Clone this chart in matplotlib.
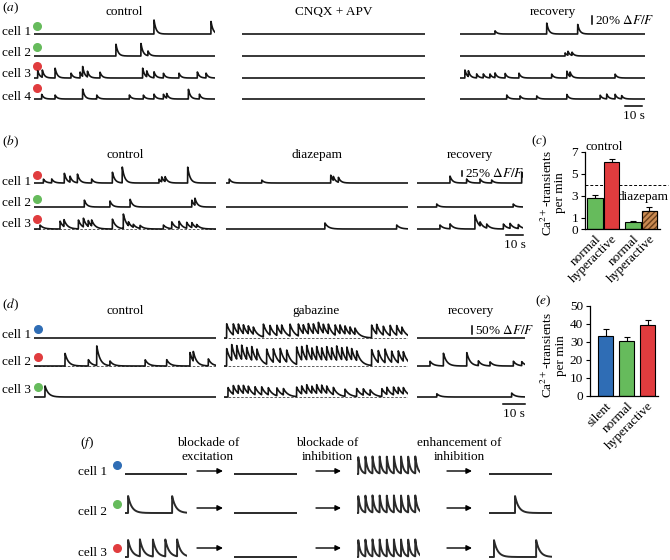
import numpy as np
import matplotlib.pyplot as plt

plt.rcParams['font.family'] = ['Liberation Serif', 'DejaVu Serif']
plt.rcParams['mathtext.fontset'] = 'stix'
plt.rcParams['font.size'] = 9.5

GREEN = '#66bb5c'
RED = '#e03c3e'
BLUE = '#2f6db5'
BROWN = '#c98a52'

# ---- (a) event times (s) and amplitudes (% dF/F) ----
a_dots = [GREEN, GREEN, RED, RED]
a_ctrl_t = [[70.6, 104.1], [48.2, 62.9, 67.0],
            [2.2, 4.9, 12.4, 21.8, 27.1, 28.6, 31.4, 38.8, 63.9, 66.3, 70.6, 76.1, 85.3, 96.1, 101.2],
            [4.5, 12.4, 28.6, 36.9, 56.1, 64.3, 70.6, 76.1, 78.0, 90.8, 97.3]]
a_ctrl_a = [[35, 32], [30, 32, 12],
            [18, 18, 25, 12, 15, 25, 15, 15, 25, 15, 15, 12, 12, 15, 12],
            [12, 10, 25, 10, 10, 10, 12, 12, 12, 25, 12]]
a_cnqx_t = [[], [], [], []]
a_cnqx_a = [[], [], [], []]
a_rec_t = [[20.6, 51.0, 69.2], [61.8, 63.5, 65.9],
           [2.9, 4.9, 9.8, 13.7, 17.6, 20.6, 26.5, 34.7, 53.9, 62.8, 64.7, 91.2],
           [27.5, 35.3, 45.1, 62.8, 82.4, 86.3, 91.2, 95.1]]
a_rec_a = [[8, 28, 25], [8, 10, 8],
           [20, 15, 10, 10, 10, 12, 12, 12, 10, 18, 12, 10],
           [10, 8, 8, 12, 10, 12, 12, 8]]

# ---- (b) ----
b_dots = [RED, GREEN, RED]
b_ctrl_t = [[5.5, 10.4, 17.8, 21.2, 25.5, 33.9, 46.1, 51.9, 73.5, 75.1, 77.1, 90.4],
            [29.6, 44.7, 56.5, 92.8, 94.7],
            [3.5, 15.3, 17.6, 26.1, 29.0, 31.9, 33.9, 46.1, 52.5, 55.5, 58.4, 62.4, 76.1, 81.0, 85.3, 89.8, 92.8, 95.7]]
b_ctrl_a = [[20, 20, 50, 30, 45, 20, 55, 80, 20, 25, 25, 80],
            [35, 30, 40, 35, 35],
            [20, 40, 35, 45, 45, 30, 30, 50, 75, 20, 15, 15, 20, 35, 35, 30, 25, 15]]
b_diaz_t = [[1.9, 21.0, 61.6, 63.1, 66.1], [], [58.2, 100.4]]
b_diaz_a = [[20, 15, 40, 20, 25], [], [30, 20]]
b_rec_t = [[19.4, 29.2, 37.1, 43.9, 61.6], [11.6, 56.6],
           [13.5, 19.4, 34.1, 37.1, 41.0, 50.8, 54.7, 59.6]]
b_rec_a = [[35, 20, 20, 15, 55], [15, 15], [20, 25, 70, 20, 20, 25, 25, 20]]

# ---- (c) ----
c_labels = ['normal', 'hyperactive', 'normal', 'hyperactive']
c_values = [2.8, 6.1, 0.6, 1.6]
c_err = [0.25, 0.3, 0.12, 0.4]
c_colors = [GREEN, RED, GREEN, BROWN]
c_thresh = 4

# ---- (d) ----
d_dots = [BLUE, RED, GREEN]
d_ctrl_t = [[], [14.1, 24.7, 28.5, 34.5, 50.5, 60.3, 70.9, 72.4, 79.2], [5.0]]
d_ctrl_a = [[], [80, 40, 125, 30, 40, 40, 85, 60, 45], [70]]
d_gaba_t = [[1.2, 4.2, 6.5, 8.8, 11.0, 13.3, 17.9, 20.9, 24.0, 26.2, 30.0, 33.8, 36.0, 38.3, 40.6,
             42.9, 45.1, 47.4, 50.5, 52.7, 55.0, 57.3, 59.5, 67.1, 69.4, 72.4, 75.5, 78.5, 80.8],
            [1.2, 3.5, 5.8, 8.0, 10.3, 12.6, 14.9, 19.4, 22.4, 25.5, 28.5, 33.0, 35.3, 37.6, 39.9,
             42.1, 44.4, 46.7, 48.9, 51.2, 53.5, 55.8, 58.0, 60.3, 67.1, 70.1, 73.2, 76.2, 79.2, 81.5],
            [1.8, 4.2, 6.5, 8.8, 11.0, 14.1, 17.1, 20.1, 24.0, 27.0, 33.0, 35.3, 37.6, 39.9,
             42.1, 44.4, 46.7, 49.7, 55.0, 60.3, 63.3, 66.4, 71.7, 74.0, 77.0, 79.2, 81.5]]
d_gaba_a = [[90, 70, 60, 55, 50, 45, 80, 60, 65, 55, 75, 75, 55, 65, 60,
             70, 55, 60, 65, 55, 50, 45, 40, 80, 60, 55, 65, 60, 45],
            [110, 100, 85, 90, 75, 85, 70, 95, 85, 90, 75, 110, 85, 90, 75,
             85, 75, 85, 75, 90, 75, 85, 70, 60, 100, 75, 85, 70, 75, 60],
            [60, 55, 50, 50, 45, 50, 50, 45, 50, 40, 60, 50, 55, 45,
             55, 50, 45, 45, 45, 50, 40, 35, 50, 45, 50, 40, 40]]
d_rec_t = [[], [5.9, 12.0, 22.6, 27.9, 33.2, 43.8, 47.6], [9.0, 43.0]]
d_rec_a = [[], [30, 80, 85, 30, 25, 30, 25], [20, 25]]

# ---- (e) ----
e_labels = ['silent', 'normal', 'hyperactive']
e_values = [33.5, 30.5, 39.5]
e_err = [3.5, 2.3, 2.6]
e_colors = [BLUE, GREEN, RED]

# ---- (f) schematic, event times in arbitrary units (0-10 per segment) ----
f_dots = [BLUE, GREEN, RED]
f_ctrl = [[], [0.5, 7.6], [0.5, 2.4, 4.5, 6.5, 8.4]]
f_exc_block = [[], [], []]
f_inh_block = [[0.2, 1.35, 2.5, 3.65, 4.8, 5.95, 7.1, 8.25, 9.4]] * 3
f_inh_enh = [[], [4.2], [0.8, 7.6]]

# ---------------------------------------------------------------
W, H = 670, 560
fig = plt.figure(figsize=(W / 100, H / 100), dpi=100)
ov = fig.add_axes([0, 0, 1, 1])
ov.set_xlim(0, W)
ov.set_ylim(H, 0)
ov.axis('off')


def box(x0, x1, y0, y1):
    return fig.add_axes([x0 / W, 1 - y1 / H, (x1 - x0) / W, (y1 - y0) / H])


def trace(x0, x1, ybase, pps, ppp, times, amps, tau, dashed=False, lw=1.2, color='#151515'):
    dur = (x1 - x0) / pps
    ax = box(x0, x1, ybase - 45, ybase + 5)
    ax.set_xlim(0, dur)
    ax.set_ylim(-5 / ppp, 45 / ppp)
    t = np.linspace(0, dur, 1500)
    y = np.zeros_like(t)
    for t0, a in zip(times, amps):
        on = t >= t0
        y[on] += a * np.exp(-(t[on] - t0) / tau)
    if dashed:
        ax.axhline(0, color='#444444', lw=0.6, ls=(0, (3, 2)))
    ax.plot(t, y, color=color, lw=lw)
    ax.axis('off')
    ax.patch.set_visible(False)
    return ax


def cell_labels(x, ys, dot_ys, dot_x, colors):
    for i, (y, dy, c) in enumerate(zip(ys, dot_ys, colors)):
        ov.text(x, y, 'cell %d' % (i + 1), ha='left', va='center')
        ov.scatter([dot_x], [dy], s=30, color=c, zorder=3)


def scalebars(xv, yv_bot, pct, ppp, xh1, yh, secs, pps):
    ov.plot([xv, xv], [yv_bot - pct * ppp, yv_bot], color='k', lw=1.1)
    ov.text(xv + 3, yv_bot - pct * ppp / 2, r'%d%% $\Delta F/F$' % pct, ha='left', va='center')
    ov.plot([xh1 - secs * pps, xh1], [yh, yh], color='k', lw=1.1)
    ov.text(xh1 - secs * pps / 2, yh + 10, '%d s' % secs, ha='center', va='center')


def panel_letter(x, y, s):
    ov.text(x, y, r'($\mathit{%s}$)' % s, ha='left', va='center')


# ---- (a) ----
A_COLS = [(34, 215), (242, 425), (460, 645)]
A_ROWS = [34, 56, 78, 99]
A_PPS, A_PPP = 1.7, 0.4
panel_letter(2, 8, 'a')
for (x0, x1), title, T, A in zip(A_COLS, ['control', 'CNQX + APV', 'recovery'],
                                 [a_ctrl_t, a_cnqx_t, a_rec_t], [a_ctrl_a, a_cnqx_a, a_rec_a]):
    ov.text((x0 + x1) / 2, 12, title, ha='center', va='center')
    for yb, tt, aa in zip(A_ROWS, T, A):
        trace(x0, x1, yb, A_PPS, A_PPP, tt, aa, 1.2)
cell_labels(2, [32, 53, 74, 97], [26, 47, 66, 88], 37, a_dots)
scalebars(592, 24, 20, A_PPP, 642, 106, 10, A_PPS)

# ---- (b) ----
B_COLS = [(34, 216), (226, 408), (417, 523)]
B_ROWS = [183, 207, 229]
B_PPS, B_PPP = 1.7, 0.2
panel_letter(2, 142, 'b')
for j, ((x0, x1), title, T, A) in enumerate(zip(B_COLS, ['control', 'diazepam', 'recovery'],
                                                [b_ctrl_t, b_diaz_t, b_rec_t],
                                                [b_ctrl_a, b_diaz_a, b_rec_a])):
    ov.text((x0 + x1) / 2, 155, title, ha='center', va='center')
    for i, (yb, tt, aa) in enumerate(zip(B_ROWS, T, A)):
        trace(x0, x1, yb, B_PPS, B_PPP, tt, aa, 2.0 if i == 2 else 1.4,
              dashed=(j == 0 and i == 2))
cell_labels(2, [182, 203, 224], [175, 199, 219], 37, b_dots)
scalebars(462, 176, 25, B_PPP, 523, 235, 10, B_PPS)

# ---- (d) ----
D_COLS = [(34, 216), (224, 408), (417, 525)]
D_ROWS = [338, 366, 397]
D_PPS, D_PPP = 2.2, 0.16
panel_letter(2, 305, 'd')
for j, ((x0, x1), title, T, A) in enumerate(zip(D_COLS, ['control', 'gabazine', 'recovery'],
                                                [d_ctrl_t, d_gaba_t, d_rec_t],
                                                [d_ctrl_a, d_gaba_a, d_rec_a])):
    ov.text((x0 + x1) / 2, 311, title, ha='center', va='center')
    for i, (yb, tt, aa) in enumerate(zip(D_ROWS, T, A)):
        trace(x0, x1, yb, D_PPS, D_PPP, tt, aa, 2.0 if j == 1 else 1.5,
              dashed=(j == 1 or (j == 0 and i == 1)))
cell_labels(2, [335, 362, 390], [329, 357, 387], 38, d_dots)
scalebars(472, 334, 50, D_PPP, 525, 404, 10, D_PPS)

# ---- bar charts ----
def style_bars(ax, xs, labels):
    for s in ['top', 'right']:
        ax.spines[s].set_visible(False)
    ax.spines['left'].set_linewidth(0.9)
    ax.spines['bottom'].set_linewidth(0.9)
    ax.tick_params(axis='y', direction='out', length=3, width=0.8, pad=2, labelsize=9.5)
    ax.tick_params(axis='x', length=0, pad=3, labelsize=9.5)
    ax.set_xticks(xs, labels, rotation=45, ha='right', rotation_mode='anchor')
    ax.patch.set_visible(False)


# (c)
panel_letter(531, 141, 'c')
axc = box(585, 660, 152, 229)
c_x = [0, 1, 2.3, 3.3]
axc.bar(c_x, c_values, width=0.92, color=c_colors, edgecolor='k', lw=0.8, zorder=2)
axc.bar(c_x[3], c_values[3], width=0.92, color=BROWN, edgecolor='#6b3f1a', lw=0,
        hatch='//////', zorder=2.5)
axc.bar(c_x[3], c_values[3], width=0.92, facecolor='none', edgecolor='k', lw=0.8, zorder=3)
axc.errorbar(c_x, c_values, yerr=[np.zeros(len(c_err)), c_err], fmt='none', ecolor='k',
             elinewidth=0.8, capsize=2, capthick=0.8, zorder=1)
axc.axhline(c_thresh, xmin=0, xmax=1.107, clip_on=False, color='k', lw=0.7, ls=(0, (3, 2)), zorder=1)
axc.set_xlim(-0.61, 3.94)
axc.set_ylim(0, 7)
axc.set_yticks([0, 1, 3, 5, 7])
style_bars(axc, c_x, c_labels)
axc.set_ylabel('Ca$^{2+}$-transients\nper min', fontsize=9.5, linespacing=0.95)
axc.yaxis.set_label_coords(-0.25, 0.47)
ov.text(604, 147, 'control', ha='center', va='center')
ov.text(643, 197, 'diazepam', ha='center', va='center')

# (e)
panel_letter(535, 301, 'e')
axe = box(590, 658, 306, 396)
e_x = [0, 1, 2]
axe.bar(e_x, e_values, width=0.72, color=e_colors, edgecolor='k', lw=0.8, zorder=2)
axe.errorbar(e_x, e_values, yerr=[np.zeros(len(e_err)), e_err], fmt='none', ecolor='k',
             elinewidth=0.8, capsize=2, capthick=0.8, zorder=1)
axe.set_xlim(-0.74, 2.5)
axe.set_ylim(0, 50)
axe.set_yticks([0, 10, 20, 30, 40, 50])
style_bars(axe, e_x, e_labels)
axe.set_ylabel('Ca$^{2+}$-transients\nper min', fontsize=9.5, linespacing=0.95)
axe.yaxis.set_label_coords(-0.34, 0.45)

# ---- (f) ----
F_COLS = [(125, 187), (234, 297), (357, 420), (489, 552)]
F_ROWS = [474, 513, 557]
F_PPS, F_PPP = 6.2, 17
panel_letter(80, 443, 'f')
for xc, title in zip([208, 327, 459], ['blockade of\nexcitation', 'blockade of\ninhibition',
                                       'enhancement of\ninhibition']):
    ov.text(xc, 450, title, ha='center', va='center', linespacing=1.15)
for j, ((x0, x1), T) in enumerate(zip(F_COLS, [f_ctrl, f_exc_block, f_inh_block, f_inh_enh])):
    for yb, tt in zip(F_ROWS, T):
        trace(x0, x1, yb, F_PPS, F_PPP, tt, [1.0] * len(tt), 0.35 if j == 2 else 0.6,
              lw=1.4, color='#2a2a2a')
for i, (y, dy, c) in enumerate(zip([472, 512, 553], [465, 504, 548], f_dots)):
    ov.text(78, y, 'cell %d' % (i + 1), ha='left', va='center')
    ov.scatter([117], [dy], s=30, color=c, zorder=3)
for xa0, xa1 in [(197, 223), (316, 341), (447, 472)]:
    for ya in [471, 508, 548]:
        ov.annotate('', xy=(xa1, ya), xytext=(xa0, ya),
                    arrowprops=dict(arrowstyle='-|>', color='k', lw=1.0,
                                    mutation_scale=8, shrinkA=0, shrinkB=0))

fig.savefig('out.png', dpi=100)
